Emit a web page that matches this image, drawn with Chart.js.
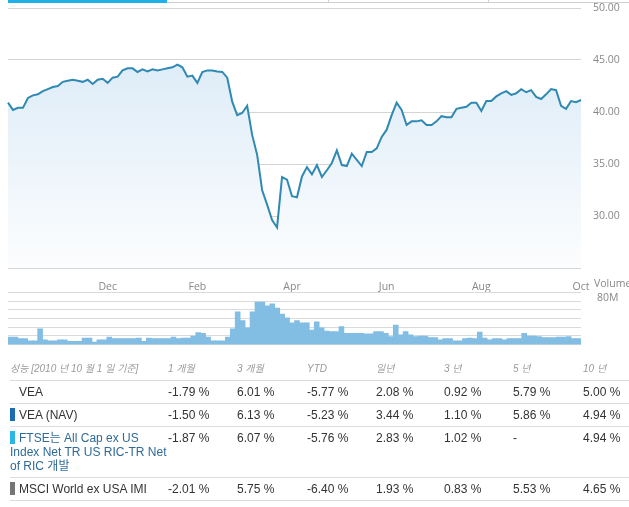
<!DOCTYPE html>
<html>
<head>
<meta charset="utf-8">
<script src="https://cdn.jsdelivr.net/npm/chart.js@4"></script>
<style>
  body { margin: 0; background: #fff; width: 629px; height: 507px; position: relative; overflow: hidden; font-family: "Liberation Sans", Arial, "Noto Sans CJK KR", sans-serif; }
  .abs { position: absolute; }
  #tabs .seg { position: absolute; top: 0; }
  #perf { position: absolute; left: 10px; top: 358px; width: 619px; border-collapse: collapse; table-layout: fixed; font-size: 12px; color: #333; }
  #perf td, #perf th { padding: 4px 0 4px 0; line-height: 14px; vertical-align: top; text-align: left; border-bottom: 1px solid #dcdcdc; font-weight: normal; }
  #perf th { font-style: italic; font-size: 10px; color: #9a9a9a; }
  #perf .bar { display: inline-block; width: 5px; height: 13px; margin-right: 4px; vertical-align: -2px; }
  #perf .ftse { color: #2f6a98; }
</style>
</head>
<body>
<div id="tabs">
  <div class="seg" style="left:8px;width:159px;height:3px;background:#1fb1e6"></div>
  <div class="seg" style="left:167px;width:462px;top:2px;height:1px;background:#cfcfcf"></div>
  <div class="seg" style="left:328px;width:1px;height:3px;background:#cfcfcf"></div>
  <div class="seg" style="left:488px;width:1px;height:3px;background:#cfcfcf"></div>
</div>
<canvas id="priceChart" class="abs" width="629" height="292" style="left:0;top:0"></canvas>
<canvas id="volChart" class="abs" width="629" height="65" style="left:0;top:286px"></canvas>
<div class="abs" style="left:594px;top:276px;font:10.5px 'Open Sans';color:#888">Volume</div>
<table id="perf"></table>
<script>
// price, one value every ~3 days from early Oct to Oct 1
var prices = [40.9, 40.2, 40.4, 40.4, 41.35, 41.6, 41.7, 42.0, 42.2, 42.4,
  42.5, 42.9, 43.0, 43.1, 43.0, 42.9, 43.1, 42.7, 43.1, 43.2,
  42.8, 43.3, 43.4, 44.0, 44.2, 44.2, 43.85, 44.1, 43.9, 44.1,
  44.0, 44.1, 44.2, 44.3, 44.55, 44.3, 43.4, 43.5, 42.8, 43.85,
  44.0, 44.0, 43.9, 43.85, 43.3, 41.0, 39.7, 39.9, 40.6, 37.8,
  35.9, 32.5, 31.1, 29.6, 28.9, 33.75, 33.5, 31.9, 31.8, 33.8,
  34.7, 34.0, 34.9, 33.75, 34.4, 35.1, 36.3, 34.9, 34.8, 36.0,
  35.4, 34.8, 36.15, 36.15, 36.5, 37.6, 38.3, 39.7, 40.9, 40.2,
  38.75, 39.1, 39.1, 39.2, 38.75, 38.75, 39.1, 39.6, 39.5, 39.5,
  40.3, 40.4, 40.5, 40.9, 40.9, 40.1, 41.05, 41.05, 41.5, 41.8,
  42.0, 41.65, 41.8, 42.2, 41.9, 42.1, 41.45, 41.25, 41.7, 42.2,
  42.1, 40.6, 40.3, 41.05, 40.95, 41.15];
// volume in millions, same periods
var volumes = [14, 14, 11, 11, 7, 7, 29, 9, 7, 7,
  9, 9, 6, 6, 6, 12, 12, 5, 9, 9,
  14, 11, 11, 11, 11, 11, 12, 6, 12, 11,
  11, 11, 11, 14, 11, 12, 12, 16, 22, 21,
  14, 7, 7, 7, 14, 29, 60, 44, 31, 60,
  78, 78, 71, 75, 67, 56, 49, 40, 44, 40,
  40, 27, 42, 31, 25, 24, 24, 33, 21, 21,
  21, 21, 20, 20, 24, 24, 21, 15, 36, 18,
  24, 18, 15, 16, 16, 13, 13, 9, 11, 11,
  7, 7, 11, 12, 11, 23, 12, 9, 11, 11,
  9, 11, 11, 11, 21, 16, 16, 15, 13, 13,
  13, 14, 14, 15, 11, 11];
var monthLabels = ['Dec', 'Feb', 'Apr', 'Jun', 'Aug', 'Oct'];
var monthIdx = [20, 38, 57, 76, 95, 115];
var priceTicks = [25, 30, 35, 40, 45, 50];
var volTicks = [0, 16, 32, 48, 64, 80, 96];

var periods = ['1 개월', '3 개월', 'YTD', '일년', '3 년', '5 년', '10 년'];
var perfTitle = '성능 [2010 년 10 월 1 일 기준]';
var rowNames = ['VEA', 'VEA (NAV)', 'FTSE는 All Cap ex US Index Net TR US RIC-TR Net of RIC 개발', 'MSCI World ex USA IMI'];
var rowColors = ['transparent', '#1b6cb3', '#2bb5e8', '#757575'];
var veaRet = [-1.79, 6.01, -5.77, 2.08, 0.92, 5.79, 5.00];
var navRet = [-1.50, 6.13, -5.23, 3.44, 1.10, 5.86, 4.94];
var ftseRet = [-1.87, 6.07, -5.76, 2.83, 1.02, null, 4.94];
var msciRet = [-2.01, 5.75, -6.40, 1.93, 0.83, 5.53, 4.65];

Chart.defaults.font.family = "'Open Sans', sans-serif";
Chart.defaults.font.size = 10.5;
Chart.defaults.color = '#888';

var labels = prices.map(function (p, i) { return i; });

new Chart('priceChart', {
  type: 'line',
  data: {
    labels: labels,
    datasets: [{
      data: prices,
      borderColor: '#2f89b3',
      borderWidth: 2,
      pointRadius: 0,
      tension: 0,
      fill: 'start',
      backgroundColor: function (ctx) {
        var area = ctx.chart.chartArea;
        if (!area) return 'rgba(220,235,247,1)';
        var g = ctx.chart.ctx.createLinearGradient(0, area.top, 0, area.bottom);
        g.addColorStop(0, '#d6e8f6');
        g.addColorStop(1, '#fcfdfe');
        return g;
      }
    }]
  },
  options: {
    responsive: false,
    animation: false,
    layout: { padding: { left: 8, top: 8, right: 0, bottom: 0 } },
    plugins: { legend: { display: false }, tooltip: { enabled: false } },
    scales: {
      x: {
        grid: { display: false },
        border: { display: false },
        ticks: {
          autoSkip: false, maxRotation: 0, padding: 5,
          callback: function (v, i) {
            var k = monthIdx.indexOf(i);
            return k >= 0 ? monthLabels[k] : null;
          }
        },
        afterFit: function (s) { s.height = 24; }
      },
      y: {
        position: 'right',
        min: 25, max: 50,
        afterBuildTicks: function (s) { s.ticks = priceTicks.map(function (v) { return { value: v }; }); },
        grid: { color: '#d4d4d4', tickLength: 12, tickColor: 'rgba(0,0,0,0)' },
        border: { display: false },
        ticks: {
          padding: 0,
          callback: function (v) { return v === 25 ? '' : v.toFixed(2); }
        },
        afterFit: function (s) { s.width = 48; }
      }
    }
  }
});

new Chart('volChart', {
  type: 'bar',
  data: {
    labels: labels,
    datasets: [{
      data: volumes,
      backgroundColor: '#82bde3',
      borderWidth: 0,
      barPercentage: 1,
      categoryPercentage: 1
    }]
  },
  options: {
    responsive: false,
    animation: false,
    layout: { padding: { left: 8, top: 6, right: 0, bottom: 0 } },
    plugins: { legend: { display: false }, tooltip: { enabled: false } },
    scales: {
      x: { display: false },
      y: {
        position: 'right',
        min: 0, max: 96,
        afterBuildTicks: function (s) { s.ticks = volTicks.map(function (v) { return { value: v }; }); },
        ticks: {
          autoSkip: false, padding: 0, labelOffset: -3,
          callback: function (v) { return v === 80 ? '80M' : ''; }
        },
        grid: { color: '#dadada', tickLength: 16, tickColor: 'rgba(0,0,0,0)' },
        border: { display: false },
        afterFit: function (s) { s.width = 48; }
      }
    }
  }
});

// performance table
var table = document.getElementById('perf');
var colW = [158, 69, 70, 69, 68, 69, 70, 46];
var cg = '<colgroup>' + colW.map(function (w) { return '<col style="width:' + w + 'px">'; }).join('') + '</colgroup>';
var head = '<tr><th>' + perfTitle + '</th>' + periods.map(function (p) { return '<th>' + p + '</th>'; }).join('') + '<th></th></tr>';
function fmt(v) { return v === null ? '-' : v.toFixed(2) + ' %'; }
var rows = [veaRet, navRet, ftseRet, msciRet].map(function (vals, r) {
  var name = '<span class="bar" style="background:' + rowColors[r] + '"></span>' + rowNames[r];
  return '<tr><td' + (r === 2 ? ' class="ftse"' : '') + '>' + name + '</td>' +
    vals.map(function (v) { return '<td>' + fmt(v) + '</td>'; }).join('') + '<td></td></tr>';
});
table.innerHTML = cg + head + rows.join('');
</script>
</body>
</html>
